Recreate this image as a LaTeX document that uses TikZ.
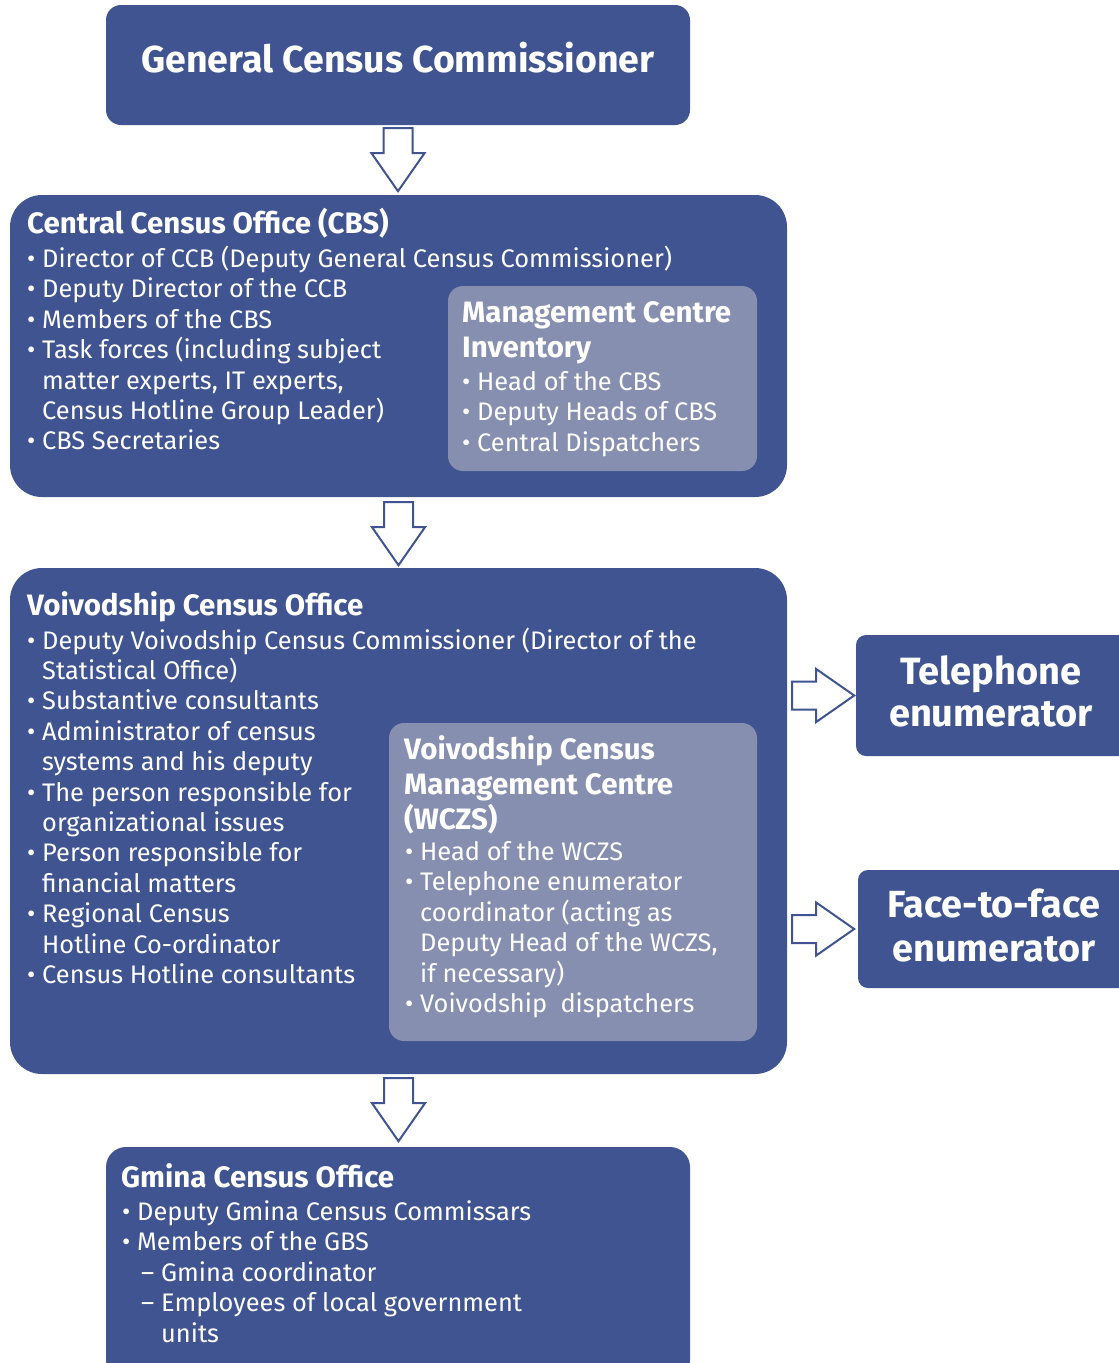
\documentclass[tikz,border=0pt]{standalone}
\usepackage{fontspec}
\setmainfont{Fira Sans}
\usetikzlibrary{calc}
\definecolor{dblue}{HTML}{3F5490}
\definecolor{lblue}{HTML}{868FB0}
\newcommand\bitem{\makebox[15pt][l]{•}}
\newcommand\bcont{\hspace*{15pt}}
\begin{document}
\begin{tikzpicture}[x=1pt,y=-1pt,
  outerbox/.style={fill=dblue, draw=none, inner sep=0, rectangle},
  innerbox/.style={fill=lblue, draw=none, inner sep=0, rectangle, rounded corners=15pt},
  bodytext/.style={text=white, anchor=base west, inner sep=0, align=left, font=\fontsize{25.4}{30.4}\selectfont},
  headtext/.style={text=white, anchor=base west, inner sep=0, align=left, font=\fontsize{29.5}{35}\selectfont\bfseries},
  bigtext/.style={text=white, anchor=base, inner sep=0, align=center, font=\fontsize{38}{42}\selectfont\bfseries},
  barrow/.style={draw=dblue, line width=2pt, fill=white, line join=miter},
  downarr/.pic={\draw[barrow] (-14.5,0) -- (14.5,0) -- (14.5,25) -- (26.5,25) -- (0,63) -- (-26.5,25) -- (-14.5,25) -- cycle;},
  rightarr/.pic={\draw[barrow] (0,-14) -- (24,-14) -- (24,-26.5) -- (62,0) -- (24,26.5) -- (24,14) -- (0,14) -- cycle;}]
\useasboundingbox (0,0) rectangle (1119,1363);

% boxes
\node[outerbox, rounded corners=15pt, minimum width=584pt, minimum height=120pt] (gcc) at (398,65) {};
\node[outerbox, rounded corners=32pt, minimum width=777pt, minimum height=302pt] (cbs) at (398.5,346) {};
\node[innerbox, minimum width=309pt, minimum height=185pt] (mgmt) at (602.5,378.5) {};
\node[outerbox, rounded corners=32pt, minimum width=777pt, minimum height=506pt] (voiv) at (398.5,821) {};
\node[innerbox, minimum width=368pt, minimum height=318pt] (wczs) at (573,882) {};
\node[outerbox, rounded corners=20pt, minimum width=584pt, minimum height=233pt] (gmina) at (398,1263.5) {};
\node[outerbox, rounded corners=10pt, minimum width=279pt, minimum height=121pt] (tel) at (995.5,695.5) {};
\node[outerbox, rounded corners=10pt, minimum width=277pt, minimum height=118pt] (face) at (996.5,929) {};

% arrows
\coordinate (a1) at ($(gcc.south)+(0,3)$);
\coordinate (a2) at ($(cbs.south)+(0,5)$);
\coordinate (a3) at ($(voiv.south)+(0,4)$);
\coordinate (a4) at ($(voiv.east |- tel.west)+(5,0)$);
\coordinate (a5) at ($(voiv.east |- face.west)+(5,0)$);
\pic at (a1) {downarr};
\pic at (a2) {downarr};
\pic at (a3) {downarr};
\pic at (a4) {rightarr};
\pic at (a5) {rightarr};

% texts (base anchor = baseline of last line)
\node[bigtext, font=\fontsize{37.5}{42}\selectfont\bfseries] (gcct) at (398,72) {General Census Commissioner};

\node[headtext] (cbsh) at (27,233) {Central Census Office (CBS)};
\node[bodytext] (cbsb) at (27,449.9) {\bitem Director of CCB (Deputy General Census Commissioner)\\
\bitem Deputy Director of the CCB\\
\bitem Members of the CBS\\
\bitem Task forces (including subject\\
\bcont matter experts, IT experts,\\
\bcont Census Hotline Group Leader)\\
\bitem CBS Secretaries};

\node[headtext] (mgmth) at (462,357) {Management Centre\\Inventory};
\node[bodytext] (mgmtb) at (462,451.3) {\bitem Head of the CBS\\
\bitem Deputy Heads of CBS\\
\bitem Central Dispatchers};

\node[headtext] (voivh) at (27,615) {Voivodship Census Office};
\node[bodytext] (voivb) at (27,983.4) {\bitem Deputy Voivodship Census Commissioner (Director of the\\
\bcont Statistical Office)\\
\bitem Substantive consultants\\
\bitem Administrator of census\\
\bcont systems and his deputy\\
\bitem The person responsible for\\
\bcont organizational issues\\
\bitem Person responsible for\\
\bcont financial matters\\
\bitem Regional Census\\
\bcont Hotline Co-ordinator\\
\bitem Census Hotline consultants};

\node[headtext] (wczsh) at (404,829) {Voivodship Census\\Management Centre\\(WCZS)};
\node[bodytext] (wczsb) at (405,1012.5) {\bitem Head of the WCZS\\
\bitem Telephone enumerator\\
\bcont coordinator (acting as\\
\bcont Deputy Head of the WCZS,\\
\bcont if necessary)\\
\bitem Voivodship\ \ dispatchers};

\node[headtext] (gminah) at (121,1187) {Gmina Census Office};
\node[bodytext] (gminab) at (122,1342.1) {\bitem Deputy Gmina Census Commissars\\
\bitem Members of the GBS\\
\hspace*{19pt}\makebox[20pt][l]{–}Gmina coordinator\\
\hspace*{19pt}\makebox[20pt][l]{–}Employees of local government\\
\hspace*{39pt}units};

\node[bigtext] (telt) at (991,726) {Telephone\\enumerator};
\node[bigtext, font=\fontsize{37.8}{44}\selectfont\bfseries] (facet) at (994,961) {Face-to-face\\enumerator};
\end{tikzpicture}
\end{document}
